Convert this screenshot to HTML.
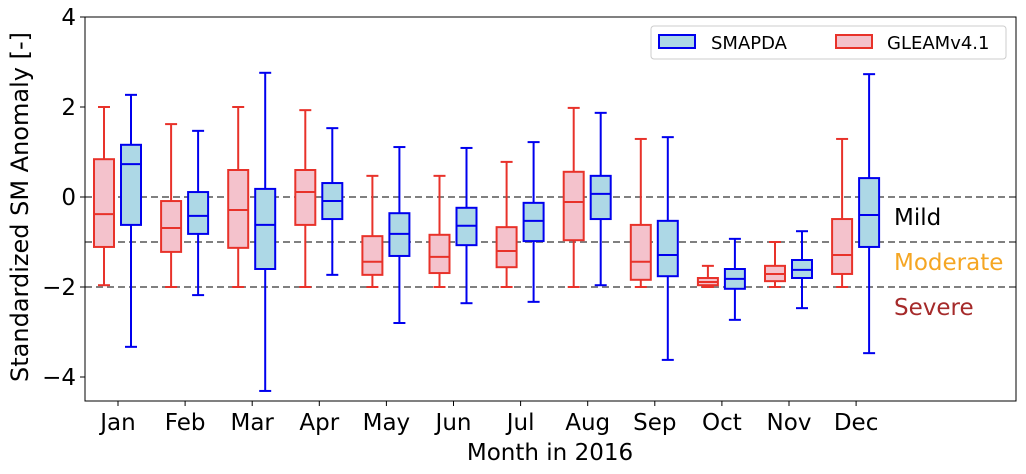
<!DOCTYPE html>
<html><head><meta charset="utf-8"><style>
body{margin:0;background:#fff;font-family:"Liberation Sans","DejaVu Sans",sans-serif}
svg text{font-family:"DejaVu Sans","Liberation Sans",sans-serif}
</style></head><body>
<svg id="chart" width="1026" height="469" viewBox="0 0 1026 469" xmlns="http://www.w3.org/2000/svg"></svg>
<script>
const months=["Jan","Feb","Mar","Apr","May","Jun","Jul","Aug","Sep","Oct","Nov","Dec"];
// [low whisker, q1, median, q3, high whisker]
const gleam=[[-1.96,-1.11,-0.38,0.84,2.0],[-2.0,-1.22,-0.69,-0.09,1.62],[-2.0,-1.13,-0.29,0.6,2.0],[-2.0,-0.62,0.11,0.6,1.93],[-2.0,-1.73,-1.44,-0.87,0.47],[-2.0,-1.69,-1.33,-0.84,0.47],[-2.0,-1.56,-1.2,-0.67,0.78],[-2.0,-0.96,-0.11,0.56,1.98],[-2.0,-1.84,-1.44,-0.62,1.29],[-2.0,-1.96,-1.89,-1.8,-1.53],[-2.0,-1.87,-1.71,-1.53,-1.0],[-2.0,-1.71,-1.29,-0.49,1.29]];
const smap=[[-3.33,-0.62,0.73,1.16,2.27],[-2.18,-0.82,-0.42,0.11,1.47],[-4.31,-1.6,-0.62,0.18,2.76],[-1.73,-0.49,-0.09,0.31,1.53],[-2.8,-1.31,-0.82,-0.36,1.11],[-2.36,-1.07,-0.64,-0.24,1.09],[-2.33,-0.98,-0.53,-0.13,1.22],[-1.96,-0.49,0.07,0.47,1.87],[-3.62,-1.76,-1.29,-0.53,1.33],[-2.73,-2.04,-1.82,-1.6,-0.93],[-2.47,-1.8,-1.62,-1.4,-0.76],[-3.47,-1.11,-0.4,0.42,2.73]];
const yTicks=[-4,-2,0,2,4];
const thresholds=[0,-1,-2];
const svg=document.getElementById('chart');const NS="http://www.w3.org/2000/svg";
const L=85,R=1016,T=17,B=401;
const y=v=>197-v*45;
const x=i=>118+i*67.1;
function el(t,a,p){const e=document.createElementNS(NS,t);for(const k in a)e.setAttribute(k,a[k]);(p||svg).appendChild(e);return e;}
function txt(s,a){const e=el('text',a);e.textContent=s;return e;}
thresholds.forEach(t=>{const l=el('line',{x1:L,x2:R,y1:y(t),y2:y(t),stroke:'#808080','stroke-width':2,'stroke-dasharray':'7,4'});

});
function box(d,cx,fill,stroke,name){
 const g=el('g',{});
 
 
 const w=20,c=6;
 el('line',{x1:cx,x2:cx,y1:y(d[0]),y2:y(d[1]),stroke:stroke,'stroke-width':2},g);
 el('line',{x1:cx,x2:cx,y1:y(d[3]),y2:y(d[4]),stroke:stroke,'stroke-width':2},g);
 el('line',{x1:cx-c,x2:cx+c,y1:y(d[0]),y2:y(d[0]),stroke:stroke,'stroke-width':2},g);
 el('line',{x1:cx-c,x2:cx+c,y1:y(d[4]),y2:y(d[4]),stroke:stroke,'stroke-width':2},g);
 el('rect',{x:cx-w/2,y:y(d[3]),width:w,height:y(d[1])-y(d[3]),fill:fill,stroke:stroke,'stroke-width':2},g);
 el('line',{x1:cx-w/2,x2:cx+w/2,y1:y(d[2]),y2:y(d[2]),stroke:stroke,'stroke-width':2},g);
}
months.forEach((m,i)=>{
 box(gleam[i],x(i)-14,'#f4c2cc','#e8322a','gleam-box-'+m.toLowerCase());
 box(smap[i],x(i)+13,'#add8e6','#0000ee','smapda-box-'+m.toLowerCase());
 const t=txt(m,{x:x(i),y:430,'font-size':23,'text-anchor':'middle'});
 
 
 el('line',{x1:x(i),x2:x(i),y1:B,y2:B+5,stroke:'#000','stroke-width':1});
});
yTicks.forEach(v=>{
 el('line',{x1:L-5,x2:L,y1:y(v),y2:y(v),stroke:'#000','stroke-width':1});
 const t=txt(v<0?'\u2212'+(-v):String(v),{x:L-9,y:y(v)+8,'font-size':23,'text-anchor':'end'});
 
 
});
const fr=el('rect',{x:L,y:T,width:R-L,height:B-T,fill:'none',stroke:'#000','stroke-width':1});


[['Mild','#000',217],['Moderate','#f5a623',262],['Severe','#a52a2a',307]].forEach(a=>{
 const t=txt(a[0],{x:894,y:a[2]+8,'font-size':23,fill:a[1]});
 
 
});
let t=txt('Month in 2016',{x:550,y:460,'font-size':23,'text-anchor':'middle'});


t=txt('Standardized SM Anomaly [-]',{x:0,y:0,'font-size':24,'text-anchor':'middle',transform:'translate(28,207) rotate(-90)'});


const lg=el('g',{});


el('rect',{x:651,y:26,width:355,height:33,rx:3,fill:'#fff',stroke:'#ccc','stroke-width':1},lg);
el('rect',{x:659,y:35,width:36,height:13,fill:'#add8e6',stroke:'#0000ee','stroke-width':2},lg);
el('rect',{x:836,y:35,width:36,height:13,fill:'#f4c2cc',stroke:'#e8322a','stroke-width':2},lg);
t=txt('SMAPDA',{x:711,y:49,'font-size':18});lg.appendChild(t);


t=txt('GLEAMv4.1',{x:887,y:49,'font-size':18});lg.appendChild(t);


</script>
</body></html>
